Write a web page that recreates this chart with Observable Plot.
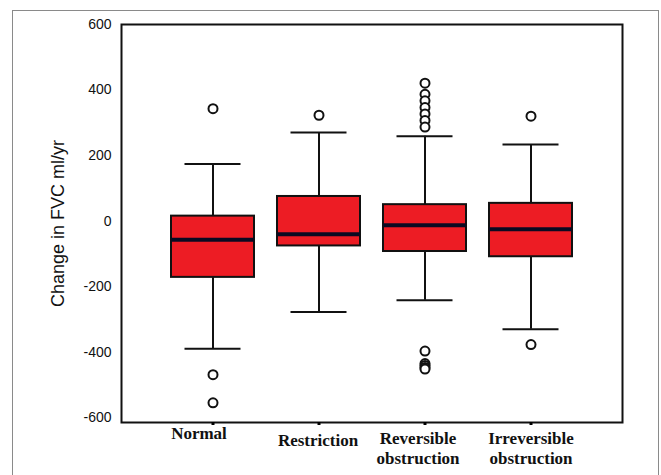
<!DOCTYPE html>
<html>
<head>
<meta charset="utf-8">
<script src="https://cdn.jsdelivr.net/npm/d3@7"></script>
<script src="https://cdn.jsdelivr.net/npm/@observablehq/plot@0.6"></script>
<style>
  html, body { margin: 0; padding: 0; background: #fff; }
  #wrap { position: relative; width: 661px; height: 475px; overflow: hidden; }
  #outer { position: absolute; left: 12px; top: 10px; width: 647px; height: 500px; border: 1px solid #8a8a8a; box-sizing: border-box; }
  #chart { position: absolute; left: 0; top: 0; }
</style>
</head>
<body>
<div id="wrap"><div id="outer"></div><div id="chart"></div></div>
<script>
const categories = ["Normal", "Restriction", "Reversible\nobstruction", "Irreversible\nobstruction"];
const whiskerLow  = [-390, -278, -242, -330];
const q1          = [-172,  -76,  -93, -109];
const median      = [ -57,  -40,  -13,  -25];
const q3          = [  15,   75,   50,   54];
const whiskerHigh = [ 174,  270,  259,  234];

const outlierGroups = [
  "Normal", "Normal", "Normal",
  "Restriction",
  "Reversible\nobstruction", "Reversible\nobstruction", "Reversible\nobstruction", "Reversible\nobstruction",
  "Reversible\nobstruction", "Reversible\nobstruction", "Reversible\nobstruction",
  "Reversible\nobstruction", "Reversible\nobstruction", "Reversible\nobstruction", "Reversible\nobstruction", "Reversible\nobstruction",
  "Irreversible\nobstruction", "Irreversible\nobstruction"
];
const outlierValues = [
  343, -469, -555,
  323,
  421, 387, 367, 347, 327, 307, 287,
  -397, -435, -441, -447, -452,
  320, -377
];

const yTicks = [600, 400, 200, 0, -200, -400, -600];
const yTitle = "Change in FVC ml/yr";

const boxes = categories.map((c, i) => ({
  cat: c, lo: whiskerLow[i], q1: q1[i], med: median[i], q3: q3[i], hi: whiskerHigh[i]
}));
const outliers = outlierValues.map((v, i) => ({cat: outlierGroups[i], value: v}));

// label nudges (styling only) to mimic the reference's hand-placed category labels
const labelNudge = [{dx: -14, dy: -5}, {dx: -1, dy: 2}, {dx: -7, dy: 0}, {dx: 0, dy: 0}];
const xLabelAxes = categories.map((c, i) => Plot.axisX({
  ticks: [c], tickSize: 0, tickPadding: 8, fontSize: 17, fontWeight: "bold",
  fontFamily: "'Liberation Serif', 'Times New Roman', serif", lineHeight: 1.15, label: null,
  dx: labelNudge[i].dx, dy: labelNudge[i].dy, fill: "#111"
}));

const chart = Plot.plot({
  width: 661,
  height: 475,
  marginLeft: 121,
  marginRight: 39,
  marginTop: 24,
  marginBottom: 53,
  style: {fontFamily: "'Liberation Sans', Arial, sans-serif", background: "transparent"},
  x: {type: "band", domain: categories, paddingInner: 0.22, paddingOuter: 0.465},
  y: {domain: [-615, 600]},
  marks: [
    Plot.ruleX(boxes, {x: "cat", y1: "q3", y2: "hi", stroke: "#111", strokeWidth: 2}),
    Plot.ruleX(boxes, {x: "cat", y1: "lo", y2: "q1", stroke: "#111", strokeWidth: 2}),
    Plot.tickY(boxes, {x: "cat", y: "hi", stroke: "#111", strokeWidth: 2, insetLeft: 13.5, insetRight: 13.5}),
    Plot.tickY(boxes, {x: "cat", y: "lo", stroke: "#111", strokeWidth: 2, insetLeft: 13.5, insetRight: 13.5}),
    Plot.barY(boxes, {x: "cat", y1: "q1", y2: "q3", fill: "#ed1c24", stroke: "#111", strokeWidth: 2}),
    Plot.tickY(boxes, {x: "cat", y: "med", stroke: "#0a0a22", strokeWidth: 4}),
    Plot.dot(outliers, {x: "cat", y: "value", r: 4.5, fill: "white", stroke: "#111", strokeWidth: 2}),
    Plot.frame({stroke: "#111", strokeWidth: 2}),
    Plot.axisY({ticks: yTicks, tickFormat: d => String(d), tickSize: 0, tickPadding: 10, fontSize: 14, label: null, fill: "#111"}),
    Plot.axisX({tickSize: 3, strokeWidth: 3, tickFormat: () => "", label: null}),
    ...xLabelAxes,
    Plot.text([yTitle], {text: d => d, frameAnchor: "left", dx: -63, rotate: -90,
                         fontSize: 18, textAnchor: "middle", lineAnchor: "middle", fill: "#111"})
  ]
});
document.getElementById("chart").appendChild(chart);
</script>
</body>
</html>
